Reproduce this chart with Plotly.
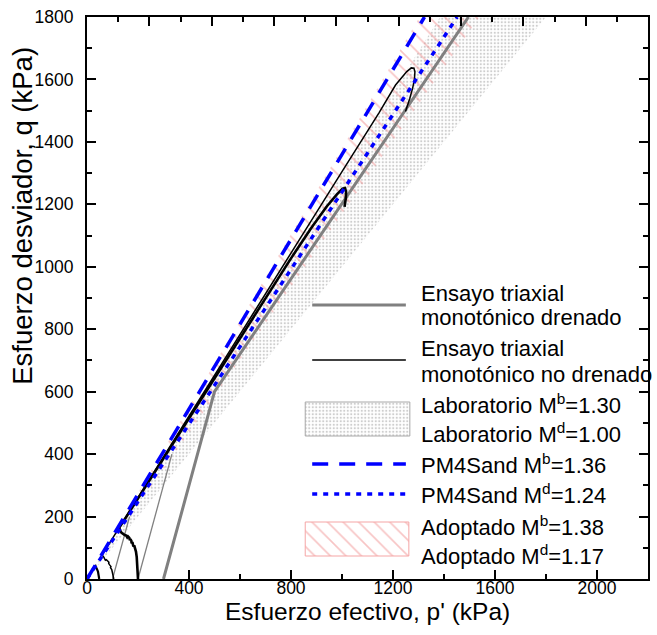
import plotly.graph_objects as go

# ---------------- data ----------------
q_top = 1800
x_range = [0, 2200]
y_range = [0, 1800]
x_tickvals = [0, 400, 800, 1200, 1600, 2000]
y_tickvals = [0, 200, 400, 600, 800, 1000, 1200, 1400, 1600, 1800]

lab_Mb, lab_Md = 1.30, 1.00        # Laboratorio
pm4_Mb, pm4_Md = 1.36, 1.24        # PM4Sand
adp_Mb, adp_Md = 1.38, 1.17        # Adoptado

# drained triaxial paths (gray)
dr1_p = [100, 167]
dr1_q = [0, 200]
dr2_p = [200, 333]
dr2_q = [0, 400]
dr3_p = [300, 500, 1496]
dr3_q = [0, 600, 1800]

# undrained triaxial paths (black)
ua_p = [200, 199, 197, 195, 192, 188, 185, 182, 181, 178, 175, 174, 170, 168, 166, 161, 158, 154,
        148, 142, 137, 132, 128, 126, 150, 200, 300, 400, 500, 600, 700, 800, 880, 940, 980, 1002,
        1012, 1016, 1015, 1012, 1010]
ua_q = [0, 25, 50, 70, 88, 100, 108, 104, 112, 118, 114, 122, 128, 124, 132, 136, 133, 139,
        141, 143, 147, 152, 160, 164, 194, 258, 387, 515, 643, 772, 900, 1027, 1125, 1193, 1232, 1250,
        1252, 1240, 1220, 1200, 1192]

ub_p = [105, 103, 100, 97, 92, 94, 88, 85, 86, 80, 76, 72, 70, 66, 62, 60, 100, 200, 400, 600,
        800, 1000, 1145, 1210, 1254, 1272, 1282, 1286, 1284, 1277, 1266, 1256, 1249]
ub_q = [0, 10, 20, 30, 36, 40, 46, 50, 54, 58, 62, 60, 66, 70, 74, 78, 130, 261, 522, 783,
        1044, 1305, 1493, 1582, 1625, 1637, 1636, 1625, 1600, 1572, 1540, 1515, 1497]

uc_p = [48, 47, 46, 43, 40, 36, 33, 30]
uc_q = [0, 10, 18, 24, 30, 36, 42, 40]

legend_rows = [
    "Ensayo triaxial", "monotónico drenado",
    "Ensayo triaxial", "monotónico no drenado",
    "Laboratorio M<sup>b</sup>=1.30", "Laboratorio M<sup>d</sup>=1.00",
    "PM4Sand M<sup>b</sup>=1.36", "PM4Sand M<sup>d</sup>=1.24",
    "Adoptado M<sup>b</sup>=1.38", "Adoptado M<sup>d</sup>=1.17",
]

# ---------------- style ----------------
FONT = "Liberation Sans, Arial, sans-serif"
W, H = 657, 635
L, R, T, B = 87, 7, 17, 56
GRAY = "#808080"
BLUE = "#0000ff"
PINK = "#f08a8a"
DOTC = "#9c9c9c"
DOTPAT = dict(shape=".", fgcolor=DOTC, bgcolor="rgba(0,0,0,0)", size=3.5, solidity=0.3)
HATPAT = dict(shape="\\", fgcolor=PINK, bgcolor="rgba(0,0,0,0)", size=11, solidity=0.15)

fig = go.Figure()

def band(M1, M2):
    return [0, q_top / M1, q_top / M2, 0], [0, q_top, q_top, 0]

# Laboratorio band (dotted)
bx, by = band(lab_Mb, lab_Md)
fig.add_trace(go.Scatter(x=bx, y=by, mode="lines", line=dict(width=0), fill="toself",
                         fillcolor="rgba(0,0,0,0)", fillpattern=DOTPAT,
                         showlegend=False, hoverinfo="skip"))
# Adoptado band (hatched)
bx, by = band(adp_Mb, adp_Md)
fig.add_trace(go.Scatter(x=bx, y=by, mode="lines", line=dict(width=0), fill="toself",
                         fillcolor="rgba(0,0,0,0)", fillpattern=HATPAT,
                         showlegend=False, hoverinfo="skip"))

# drained paths
for px_, qy_, w in [(dr1_p, dr1_q, 1.3), (dr2_p, dr2_q, 1.3), (dr3_p, dr3_q, 3)]:
    fig.add_trace(go.Scatter(x=px_, y=qy_, mode="lines", line=dict(color=GRAY, width=w),
                             showlegend=False, hoverinfo="skip"))

# undrained paths
for px_, qy_, w in [(ua_p, ua_q, 2.6), (ub_p, ub_q, 1.5), (uc_p, uc_q, 2.2)]:
    fig.add_trace(go.Scatter(x=px_, y=qy_, mode="lines", line=dict(color="black", width=w),
                             showlegend=False, hoverinfo="skip"))

# PM4Sand lines
fig.add_trace(go.Scatter(x=[0, q_top / pm4_Mb], y=[0, q_top], mode="lines",
                         line=dict(color=BLUE, width=3.5, dash="16px,11px"),
                         showlegend=False, hoverinfo="skip"))
fig.add_trace(go.Scatter(x=[0, q_top / pm4_Md], y=[0, q_top], mode="lines",
                         line=dict(color=BLUE, width=3.5, dash="5px,6px"),
                         showlegend=False, hoverinfo="skip"))

# top-axis helper trace (invisible)
fig.add_trace(go.Scatter(x=[0, 18], y=[0, 0], xaxis="x2", mode="markers",
                         marker=dict(opacity=0), showlegend=False, hoverinfo="skip"))

# ---------------- legend (pixel coordinates on helper axes) ----------------
leg_text_x = 420
row_y = [293, 317, 348, 374, 404, 433, 464, 494, 526, 555]
line_x = [313, 407]

def legline(y, color, width, dash="solid"):
    fig.add_trace(go.Scatter(x=line_x, y=[y, y], xaxis="x3", yaxis="y3", mode="lines",
                             line=dict(color=color, width=width, dash=dash),
                             showlegend=False, hoverinfo="skip"))

def legbox(x0, x1, y0, y1, border, pattern):
    fig.add_trace(go.Scatter(x=[x0, x1, x1, x0, x0], y=[y0, y0, y1, y1, y0], xaxis="x3", yaxis="y3",
                             mode="lines", line=dict(color=border, width=1), fill="toself",
                             fillcolor="rgba(0,0,0,0)", fillpattern=pattern,
                             showlegend=False, hoverinfo="skip"))

legline(305, GRAY, 3)
legline(360, "black", 1.6)
legbox(306, 411, 402, 436, "#a8a8a8", DOTPAT)
legline(464, BLUE, 3.5, "16px,11px")
legline(494, BLUE, 3.5, "5px,6px")
legbox(306, 410, 522, 556, "#f5a5a5", HATPAT)

annotations = []
for txt, yy in zip(legend_rows, row_y):
    annotations.append(dict(text=txt, x=leg_text_x, y=yy, xref="x3", yref="y3",
                            xanchor="left", yanchor="middle", showarrow=False,
                            font=dict(family=FONT, size=22, color="black")))

pw, ph = W - L - R, H - T - B
# axis titles
annotations.append(dict(text="Esfuerzo efectivo, p' (kPa)", xref="paper", yref="paper",
                        x=0.5, y=(579 - 611) / ph, xanchor="center", yanchor="middle",
                        showarrow=False, font=dict(family=FONT, size=24.5, color="black")))
annotations.append(dict(text="Esfuerzo desviador, q (kPa)", xref="paper", yref="paper",
                        x=(22 - L) / pw, y=(579 - 215.5) / ph, xanchor="center", yanchor="middle",
                        textangle=-90, showarrow=False,
                        font=dict(family=FONT, size=27.5, color="black")))

axis_common = dict(showgrid=False, zeroline=False, linecolor="black", linewidth=2,
                   ticks="inside", tickcolor="black", tickwidth=2, ticklen=9)

fig.update_layout(
    width=W, height=H,
    margin=dict(l=L, r=R, t=T, b=B, pad=0),
    paper_bgcolor="white", plot_bgcolor="white",
    showlegend=False,
    font=dict(family=FONT, color="black"),
    xaxis=dict(range=x_range, tickvals=x_tickvals, mirror=True,
               minor=dict(dtick=200, ticklen=5, tickwidth=2, tickcolor="black", ticks="inside"),
               tickfont=dict(family=FONT, size=17.5), ticklabelstandoff=-8, **axis_common),
    yaxis=dict(range=y_range, tickvals=y_tickvals, mirror="ticks",
               minor=dict(dtick=100, ticklen=5, tickwidth=2, tickcolor="black", ticks="inside"),
               tickfont=dict(family=FONT, size=17.5), ticklabelstandoff=8, **axis_common),
    xaxis2=dict(range=[0, 18], overlaying="x", side="top", showticklabels=False,
                showgrid=False, zeroline=False, showline=False, dtick=2, tick0=0,
                ticks="inside", tickcolor="black", tickwidth=2, ticklen=9,
                minor=dict(dtick=1, ticklen=5, tickwidth=2, tickcolor="black", ticks="inside")),
    xaxis3=dict(range=[L, W - R], overlaying="x", visible=False, fixedrange=True),
    yaxis3=dict(range=[H - B, T], overlaying="y", visible=False, fixedrange=True),
    annotations=annotations,
)

fig.write_html("out.html")
